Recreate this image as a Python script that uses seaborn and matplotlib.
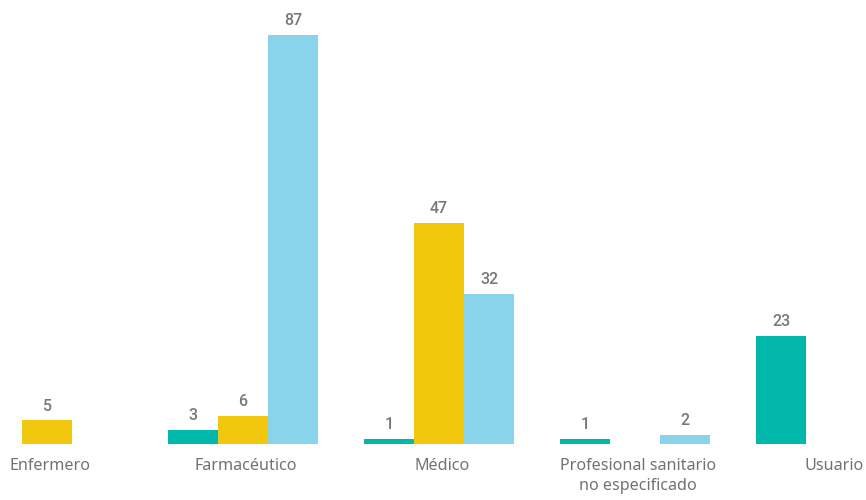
import matplotlib
matplotlib.use("Agg")
import matplotlib.pyplot as plt
import matplotlib.transforms as mtransforms
import seaborn as sns
import pandas as pd

categories = ["Enfermero", "Farmacéutico", "Médico",
              "Profesional sanitario\nno especificado", "Usuario"]
series = ["Serie 1", "Serie 2", "Serie 3"]
serie1 = [None, 3, 1, 1, 23]
serie2 = [5, 6, 47, None, None]
serie3 = [None, 87, 32, 2, None]
colors = ["#01B8AA", "#F2C80F", "#8AD4EB"]

rows = []
for s, vals in zip(series, [serie1, serie2, serie3]):
    for c, v in zip(categories, vals):
        if v is not None:
            rows.append({"cat": c, "serie": s, "val": v})
df = pd.DataFrame(rows)

sns.set_theme(style="white")
plt.rcParams["font.family"] = ["Noto Sans", "DejaVu Sans"]

fig = plt.figure(figsize=(8.66, 5), dpi=100)
ax = fig.add_axes([0, 56 / 500, 1, 444 / 500])
sns.barplot(data=df, x="cat", y="val", hue="serie", order=categories,
            hue_order=series, palette=colors, width=0.765, gap=0,
            linewidth=0, saturation=1, legend=False, ax=ax)

for cont in ax.containers:
    ax.bar_label(cont, padding=5, color="#787878", fontsize=11.5,
                 family="Roboto", fontweight="medium")

ax.set_xlim(-47 / 196, -47 / 196 + 866 / 196)
ax.set_ylim(0, 87 * 444 / 409)
ax.set_xlabel("")
ax.set_ylabel("")
ax.set_yticks([])
ax.tick_params(axis="x", length=0, pad=10, labelsize=11.6, labelcolor="#727272")
offset = mtransforms.ScaledTranslation(3 / 100, 0, fig.dpi_scale_trans)
for lbl in ax.get_xticklabels():
    lbl.set_linespacing(1.35)
    lbl.set_transform(lbl.get_transform() + offset)
for sp in ax.spines.values():
    sp.set_visible(False)
ax.patch.set_alpha(0)

fig.savefig("out.png", dpi=100)
